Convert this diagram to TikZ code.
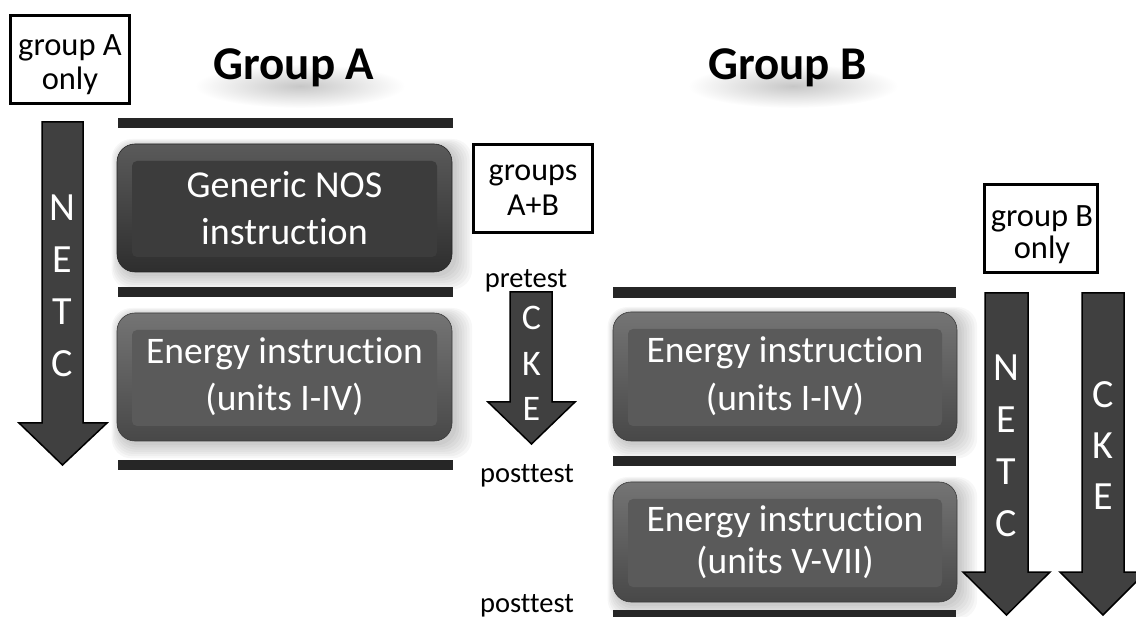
\documentclass[tikz,border=0pt]{standalone}
\usepackage{fontspec}
\setmainfont{Carlito}[Ligatures=NoCommon, RawFeature={-liga;-clig;-dlig}]
\usetikzlibrary{backgrounds}
\definecolor{barcol}{HTML}{262626}
\definecolor{arrcol}{HTML}{404040}
\definecolor{darkbase}{HTML}{3C3C3C}
\definecolor{darktop}{HTML}{5A5A5A}
\definecolor{darkbot}{HTML}{2E2E2E}
\definecolor{lightbase}{HTML}{5A5A5A}
\definecolor{lighttop}{HTML}{747474}
\definecolor{lightbot}{HTML}{484848}
\tikzset{
  every node/.style={inner sep=0pt, outer sep=0pt},
  tagbox/.style={draw=black, line width=3pt, minimum height=88pt},
  tagtext/.style={align=center},
  titletext/.style={font=\bfseries\fontsize{47}{50}\selectfont},
  testlbl/.style={font=\fontsize{28.5}{32}\selectfont, anchor=base},
  instbox/.style 2 args={rounded corners=18pt, align=center, text=white,
    draw=#2!80!black, line width=0.6pt,
    top color=#1, bottom color=#2},
  darkbox/.style={instbox={darktop}{darkbot},
    path picture={\fill[darkbase, rounded corners=5pt] ([shift={(15pt,-17pt)}]path picture bounding box.north west)
      rectangle ([shift={(-15pt,15pt)}]path picture bounding box.south east);}},
  lightbox/.style={instbox={lighttop}{lightbot},
    path picture={\fill[lightbase, rounded corners=5pt] ([shift={(15pt,-17pt)}]path picture bounding box.north west)
      rectangle ([shift={(-15pt,15pt)}]path picture bounding box.south east);}},
  blockarrow/.style={fill=arrcol, draw=black, line width=1.5pt, line join=miter},
  arrowtext/.style={text=white, align=center},
}
\begin{document}
\begin{tikzpicture}[x=1pt, y=-1pt]
\useasboundingbox (0,0) rectangle (1136,617);

% tag boxes
\node[tagbox, minimum width=119pt] (tagA) at (70,59.5) {};
\node[tagtext, font=\fontsize{32.5}{34}\selectfont] (tagAtxt) at (70,65) {group A\\only};
\node[tagbox, minimum width=119pt] (tagAB) at (533,188.5) {};
\node[tagtext, font=\fontsize{32}{35}\selectfont] (tagABtxt) at (533,190) {groups\\A+B};
\node[tagbox, minimum width=113pt] (tagB) at (1041,228.5) {};
\node[tagtext, font=\fontsize{32.5}{32}\selectfont] (tagBtxt) at (1042,235) {group B\\only};

% titles
\node[titletext, anchor=base] (titleA) at (294,80) {Group A};
\node[titletext, anchor=base] (titleB) at (787.5,80) {Group B};

% bars
\fill[barcol] (118,118) rectangle (453,128);
\fill[barcol] (118,287) rectangle (453,297);
\fill[barcol] (118,460) rectangle (453,470);
\fill[barcol] (613,287) rectangle (956,298);
\fill[barcol] (613,456) rectangle (956,466);
\fill[barcol] (613,610) rectangle (956,621);

% instruction boxes
\node[darkbox, minimum width=335pt, minimum height=128pt, font=\fontsize{38}{47}\selectfont]
  (gnos) at (284.5,208) {Generic NOS\\instruction};
\node[lightbox, minimum width=335pt, minimum height=128pt, font=\fontsize{37.5}{47}\selectfont]
  (ea) at (284.5,377) {Energy instruction\\(units I-IV)};
\node[lightbox, minimum width=344pt, minimum height=129pt, font=\fontsize{37.5}{48}\selectfont]
  (eb1) at (785,376.5) {Energy instruction\\(units I-IV)};
\node[lightbox, minimum width=344pt, minimum height=120pt, font=\fontsize{37.5}{42}\selectfont]
  (eb2) at (785,542) {Energy instruction\\(units V-VII)};

% shadows
\begin{scope}[on background layer]
  \foreach \n in {gnos,ea,eb1,eb2}{
    \foreach \k in {1,...,7}{
      \fill[black, opacity=0.03, rounded corners=20pt]
        ([shift={(-\k*1.2pt+3pt,\k*1.0pt-2pt)}]\n.north west)
        rectangle ([shift={(\k*2.6pt+2pt,-\k*2.2pt-2pt)}]\n.south east);
    }
  }
  \shade[inner color=black!22, outer color=white] (300,86) ellipse (105pt and 22pt);
  \shade[inner color=black!22, outer color=white] (793,86) ellipse (105pt and 22pt);
\end{scope}

% block arrows
\draw[blockarrow] (42,122) -- (83,122) -- (83,423) -- (107,423) -- (62.5,465)
  -- (19,423) -- (42,423) -- cycle;
\node[arrowtext, font=\fontsize{40}{52}\selectfont] (netcA) at (62.5,285.5) {N\\E\\T\\C};

\draw[blockarrow] (510,292) -- (552,292) -- (552,402) -- (575,402) -- (531.5,444)
  -- (488,402) -- (510,402) -- cycle;
\node[arrowtext, font=\fontsize{36}{45.5}\selectfont] (ckeA) at (531.5,363.5) {C\\K\\E};

\draw[blockarrow] (985,293) -- (1028,293) -- (1028,572) -- (1050,572) -- (1006.5,615)
  -- (963,572) -- (985,572) -- cycle;
\node[arrowtext, font=\fontsize{40}{52}\selectfont] (netcB) at (1006.5,446) {N\\E\\T\\C};

\draw[blockarrow] (1082,293) -- (1124,293) -- (1124,572) -- (1146,572) -- (1103,615)
  -- (1060,572) -- (1082,572) -- cycle;
\node[arrowtext, font=\fontsize{40}{51}\selectfont] (ckeB) at (1103,446) {C\\K\\E};

% test labels
\node[testlbl] (pre) at (526,288) {pretest};
\node[testlbl] (postA) at (527,483) {posttest};
\node[testlbl] (postB) at (527,612) {posttest};
\end{tikzpicture}
\end{document}
